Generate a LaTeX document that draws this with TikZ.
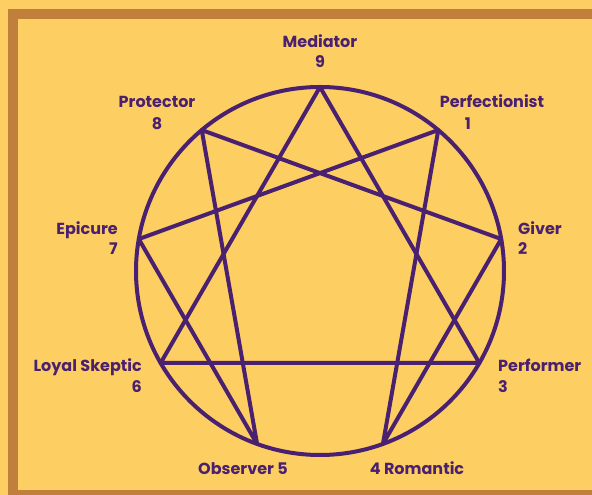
\documentclass[tikz,border=0pt]{standalone}
\usepackage{fontspec}
\setmainfont{Poppins}
\usetikzlibrary{calc}
\definecolor{bgyellow}{HTML}{FDCE62}
\definecolor{framebrown}{HTML}{C07F3A}
\definecolor{enpurple}{HTML}{4A2070}
\tikzset{
  lbl/.style={text=enpurple, font=\fontsize{16}{18}\selectfont\bfseries, inner sep=0pt},
  enline/.style={draw=enpurple, line width=4pt, line join=round, line cap=round},
}
\begin{document}
\begin{tikzpicture}[x=1pt,y=1pt]
\useasboundingbox (0,0) rectangle (592,495);
\fill[bgyellow] (0,0) rectangle (592,495);
\fill[framebrown] (8,-10) rectangle (610,486);
\fill[bgyellow] (18,5) rectangle (610,476);
\coordinate (c) at (320,224);
\foreach \k in {0,...,8} {
  \coordinate (p\k) at ($(c)+({90-40*\k}:184)$);
}
\draw[enline] (c) circle (184);
\draw[enline] (p0) -- (p3) -- (p6) -- cycle;
\draw[enline] (p1) -- (p4) -- (p2) -- (p8) -- (p5) -- (p7) -- cycle;
% labels
\node[lbl, anchor=base] (l9) at (320,447) {Mediator};
\node[lbl, anchor=base] (n9) at (320,427) {9};
\node[lbl, anchor=base] (l8) at (157,387) {Protector};
\node[lbl, anchor=base] (n8) at (157,365) {8};
\node[lbl, anchor=base] (l1) at (492,387) {Perfectionist};
\node[lbl, anchor=base] (n1) at (468,365) {1};
\node[lbl, anchor=base east] (l7) at (118,260) {Epicure};
\node[lbl, anchor=base east] (n7) at (118,240) {7};
\node[lbl, anchor=base west] (l2) at (518,260) {Giver};
\node[lbl, anchor=base west] (n2) at (518,240) {2};
\node[lbl, anchor=base east] (l6) at (142,123) {Loyal Skeptic};
\node[lbl, anchor=base east] (n6) at (142,102) {6};
\node[lbl, anchor=base west] (l3) at (498,123) {Performer};
\node[lbl, anchor=base west] (n3) at (498,102) {3};
\node[lbl, anchor=base] (l5) at (243,20) {Observer 5};
\node[lbl, anchor=base] (l4) at (417,20) {4 Romantic};
\end{tikzpicture}
\end{document}
